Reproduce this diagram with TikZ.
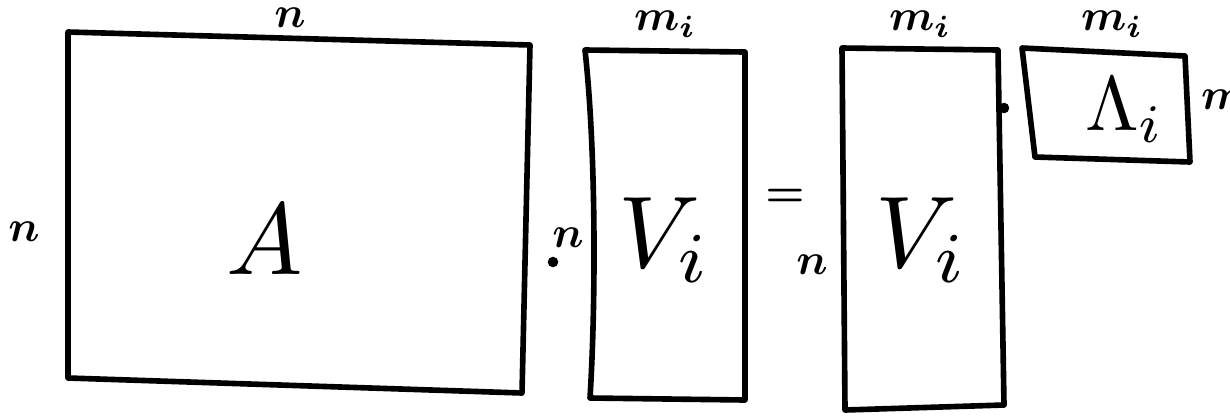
\documentclass[tikz,border=0pt]{standalone}
\usepackage{amsmath}
\usepackage{graphicx}
\newcommand{\dimtext}[1]{\scalebox{2.5}{\boldmath$#1$}}
\newcommand{\bigtext}[1]{\scalebox{5.8}{$#1$}}
\tikzset{
  hand/.style={line width=3.2pt, line join=round, line cap=round},
  dotmark/.style={circle, fill, inner sep=0pt, minimum size=6pt},
  every node/.style={inner sep=0pt}
}
\begin{document}
\begin{tikzpicture}[x=0.02cm, y=-0.02cm]
\useasboundingbox (0,0) rectangle (1230,417);
% matrix A
\draw[hand] (68,32) -- (530,45) -- (522,393) -- (68,378) -- cycle;
\node (An) at (290,18) {\dimtext{n}};
\node (Am) at (24,232) {\dimtext{n}};
\node (A) at (265,240) {\bigtext{A}};
% product dot
\node[dotmark] (dotA) at (553,262) {};
\node (Vn) at (568,238) {\dimtext{n}};
% first V_i
\draw[hand] (585,50) -- (745,52) -- (745,400) -- (590,398) .. controls (596,300) and (596,150) .. cycle;
\node (Vm) at (665,24) {\dimtext{m_i}};
\node (V) at (665,240) {\bigtext{V_i}};
% equals
\node (eq) at (785,198) {\dimtext{=}};
% second V_i
\draw[hand] (842,48) -- (998,50) -- (1004,405) -- (845,410) -- cycle;
\node (Wm) at (920,24) {\dimtext{m_i}};
\node (Wn) at (812,265) {\dimtext{n}};
\node (W) at (922,240) {\bigtext{V_i}};
% second dot
\node[dotmark] (dotL) at (1004,108) {};
% Lambda_i
\draw[hand] (1022,48) -- (1185,56) -- (1190,162) -- (1035,157) -- cycle;
\node (Lm) at (1112,24) {\dimtext{m_i}};
\node (Ln) at (1232,103) {\dimtext{m_i}};
\node (L) at (1125,110) {\scalebox{4.4}{$\Lambda_i$}};
\end{tikzpicture}
\end{document}
